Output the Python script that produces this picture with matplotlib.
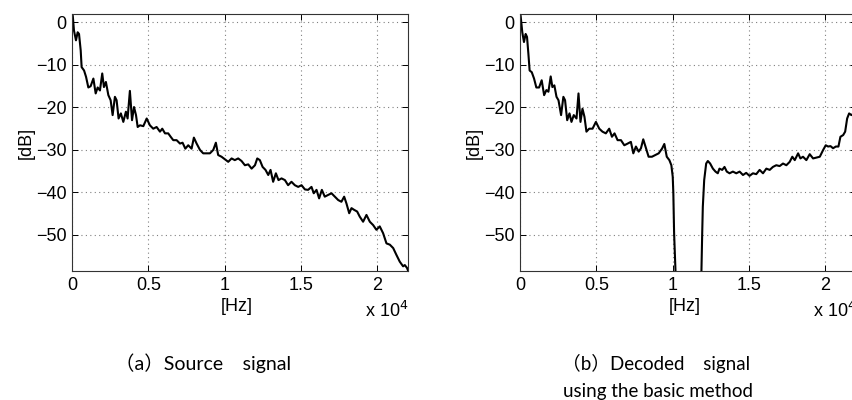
import matplotlib
matplotlib.use("Agg")
import matplotlib.pyplot as plt

# frequency in units of 10^4 Hz, level in dB
src_freq = [0.0, 0.005, 0.013, 0.026, 0.037, 0.046, 0.057, 0.063, 0.079, 0.092, 0.107, 0.122,
            0.14, 0.155, 0.168, 0.183, 0.198, 0.209, 0.222, 0.238, 0.253, 0.266, 0.281, 0.292,
            0.305, 0.32, 0.336, 0.353, 0.364, 0.379, 0.393, 0.406, 0.419, 0.43, 0.445, 0.467,
            0.489, 0.51, 0.532, 0.554, 0.576, 0.591, 0.609, 0.63, 0.646, 0.663, 0.685, 0.707,
            0.724, 0.742, 0.761, 0.783, 0.798, 0.816, 0.838, 0.859, 0.881, 0.903, 0.925, 0.942,
            0.957, 0.979, 1.001, 1.023, 1.045, 1.066, 1.088, 1.11, 1.132, 1.154, 1.176, 1.198,
            1.213, 1.23, 1.248, 1.267, 1.285, 1.3, 1.317, 1.335, 1.352, 1.372, 1.394, 1.415,
            1.437, 1.459, 1.481, 1.503, 1.525, 1.546, 1.568, 1.583, 1.601, 1.618, 1.636, 1.655,
            1.677, 1.699, 1.721, 1.743, 1.764, 1.782, 1.797, 1.815, 1.83, 1.847, 1.867, 1.884,
            1.906, 1.928, 1.95, 1.972, 1.993, 2.015, 2.037, 2.059, 2.081, 2.103, 2.124, 2.146,
            2.168, 2.179, 2.194, 2.2]
src_db = [2.0, 1.6, -1.9, -4.2, -2.3, -2.7, -6.6, -10.5, -11.3, -12.8, -15.3, -15.0,
          -13.2, -16.7, -15.3, -16.0, -12.0, -15.2, -14.0, -17.1, -18.3, -21.8, -17.5, -18.3,
          -22.6, -21.4, -23.4, -21.0, -22.6, -16.1, -23.0, -19.9, -21.8, -24.6, -24.2, -24.4,
          -22.6, -24.2, -25.0, -24.6, -25.7, -25.0, -26.1, -26.1, -26.9, -27.7, -27.7, -28.5,
          -28.3, -29.7, -28.9, -29.7, -27.1, -28.5, -30.0, -30.8, -30.8, -30.8, -30.0, -28.3,
          -31.2, -31.6, -32.2, -32.8, -32.0, -32.4, -32.0, -32.6, -33.6, -33.4, -34.4, -33.6,
          -32.0, -32.4, -34.0, -34.7, -35.9, -34.7, -37.5, -35.5, -37.1, -36.7, -37.1, -38.3,
          -37.5, -38.3, -38.7, -38.3, -39.3, -39.4, -38.7, -40.2, -39.4, -41.4, -39.4, -41.0,
          -40.6, -40.2, -41.0, -41.8, -42.2, -41.0, -42.6, -44.9, -43.7, -44.1, -44.5, -45.7,
          -46.9, -45.3, -46.9, -47.7, -48.8, -48.0, -49.6, -52.0, -52.3, -53.1, -54.7, -56.3,
          -57.4, -57.1, -57.8, -58.4]

dec_freq = [0.0, 0.004, 0.015, 0.026, 0.037, 0.046, 0.055, 0.063, 0.077, 0.092, 0.107, 0.125,
            0.142, 0.158, 0.173, 0.186, 0.201, 0.212, 0.225, 0.239, 0.252, 0.269, 0.284, 0.295,
            0.309, 0.324, 0.337, 0.352, 0.37, 0.383, 0.396, 0.409, 0.422, 0.435, 0.453, 0.475,
            0.497, 0.519, 0.54, 0.562, 0.584, 0.602, 0.619, 0.639, 0.661, 0.683, 0.705, 0.726,
            0.742, 0.759, 0.777, 0.792, 0.807, 0.825, 0.842, 0.864, 0.886, 0.908, 0.93, 0.945,
            0.961, 0.978, 0.991, 1.0, 1.004, 1.009, 1.013, 1.018, 1.02,
            1.186, 1.188, 1.193, 1.197, 1.206, 1.219, 1.23, 1.245, 1.263, 1.28, 1.295, 1.306,
            1.324, 1.339, 1.354, 1.372, 1.394, 1.416, 1.438, 1.46, 1.481, 1.503, 1.525, 1.547,
            1.569, 1.591, 1.613, 1.635, 1.656, 1.678, 1.7, 1.722, 1.744, 1.766, 1.783, 1.799,
            1.821, 1.836, 1.853, 1.875, 1.897, 1.919, 1.941, 1.963, 1.985, 2.002, 2.017, 2.033,
            2.05, 2.068, 2.085, 2.098, 2.116, 2.129, 2.142, 2.155, 2.17, 2.2]
dec_db = [2.0, 1.6, -2.3, -4.6, -2.7, -3.4, -7.4, -11.3, -11.7, -13.2, -15.3, -15.3,
          -13.6, -17.1, -15.9, -16.3, -12.7, -15.2, -14.8, -17.5, -18.3, -21.8, -17.5, -18.3,
          -23.0, -21.4, -23.4, -21.8, -22.6, -16.7, -23.4, -20.3, -22.2, -25.7, -25.0, -25.0,
          -23.4, -25.0, -25.7, -26.1, -25.0, -26.9, -26.1, -27.7, -27.7, -28.9, -28.5, -28.1,
          -30.8, -29.2, -30.4, -29.6, -27.5, -29.6, -31.6, -31.6, -31.2, -30.8, -29.7, -28.6,
          -31.6, -32.4, -33.6, -36.3, -40.2, -49.6, -53.5, -58.4, -80.0,
          -80.0, -58.4, -49.6, -43.4, -37.1, -33.2, -32.6, -33.2, -34.4, -35.1, -35.5, -34.4,
          -34.7, -34.0, -35.1, -35.5, -35.1, -35.5, -35.1, -35.9, -35.4, -36.1, -35.5, -35.7,
          -34.7, -35.5, -34.4, -34.7, -34.0, -33.6, -33.8, -33.2, -33.6, -32.8, -31.6, -32.4,
          -30.8, -32.0, -31.6, -32.4, -31.0, -32.0, -31.8, -31.6, -30.0, -28.9, -29.2, -29.1,
          -29.6, -29.2, -29.2, -26.9, -26.5, -25.7, -22.6, -21.4, -21.8, -21.0]

xticks = [0, 0.5, 1, 1.5, 2]
xtick_labels = ["0", "0.5", "1", "1.5", "2"]
yticks = [0, -10, -20, -30, -40, -50]
caption_a = "（a）Source　signal"
caption_b = ["（b）Decoded　signal", "using the basic method"]

tick_font = "Liberation Sans"
cap_font = ["Lato", "Noto Sans CJK JP", "DejaVu Sans"]

fig = plt.figure(figsize=(8.52, 4.0), dpi=100)

axes_pos = [[72 / 852, 1 - 271 / 400, 336 / 852, 257 / 400],
            [520 / 852, 1 - 271 / 400, 336 / 852, 257 / 400]]
series = [(src_freq, src_db), (dec_freq, dec_db)]

for i in range(2):
    ax = fig.add_axes(axes_pos[i])
    ax.plot(series[i][0], series[i][1], color="black", lw=1.5)
    ax.set_xlim(0, 2.2)
    ax.set_ylim(-58.5, 2)
    ax.set_xticks(xticks)
    ax.set_xticklabels(xtick_labels, fontfamily=tick_font, fontsize=13)
    ax.set_yticks(yticks)
    ax.set_yticklabels([str(v).replace("-", "\u2212") for v in yticks],
                       fontfamily=tick_font, fontsize=13)
    ax.tick_params(direction="in", length=4, width=0.7, pad=4,
                   top=True, right=True, colors="black")
    ax.grid(True, color="#808080", linestyle=(0, (1, 3)), linewidth=0.8)
    for sp in ax.spines.values():
        sp.set_color("#333333")
        sp.set_linewidth(0.8)
    ax.set_ylabel("[dB]", fontfamily=tick_font, fontsize=13, labelpad=1)
    ax.text(0.49, -0.14, "[Hz]", transform=ax.transAxes, ha="center", va="center",
            fontfamily=tick_font, fontsize=13)
    ax.text(1.92, -0.156, r"x 10$^4$", transform=ax.get_xaxis_transform(),
            ha="left", va="center", fontfamily=tick_font, fontsize=13)

fig.text(203 / 852, 1 - 363 / 400, caption_a, ha="center", va="center",
         fontfamily=cap_font, fontsize=14)
fig.text(656 / 852, 1 - 363 / 400, caption_b[0], ha="center", va="center",
         fontfamily=cap_font, fontsize=13.5)
fig.text(658 / 852, 1 - 391 / 400, caption_b[1], ha="center", va="center",
         fontfamily=cap_font, fontsize=13.5)

fig.savefig("out.png", dpi=100)
